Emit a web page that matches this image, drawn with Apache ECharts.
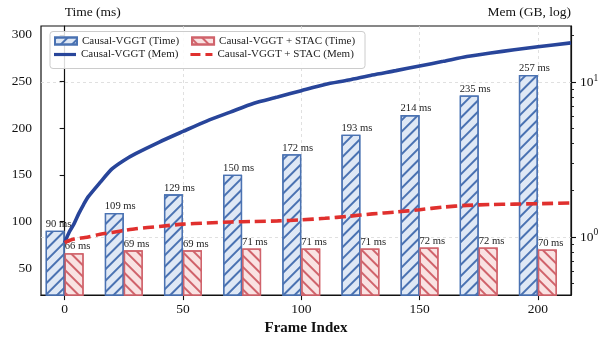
<!DOCTYPE html>
<html>
<head>
<meta charset="utf-8">
<script src="https://cdn.jsdelivr.net/npm/echarts@6/dist/echarts.min.js"></script>
<style>
  html, body { margin: 0; padding: 0; background: #fff; }
  #chart { width: 607px; height: 341px; }
</style>
</head>
<body>
<div id="chart"></div>
<script>
// Per-frame latency (ms) sampled every 25 frames
const frames = [0, 25, 50, 75, 100, 125, 150, 175, 200];
const timeBase = [90, 109, 129, 150, 172, 193, 214, 235, 257];
const timeStac = [66, 69, 69, 71, 71, 71, 72, 72, 70];

// Peak memory (GB) along the sequence
const memFrames = [0, 2, 4, 6, 8, 10, 15, 20, 25, 30, 40, 50, 60, 70, 80, 90, 100, 110, 120, 130, 140, 150, 160, 170, 180, 190, 200, 214];
const memBase = [0.92, 1.08, 1.22, 1.42, 1.62, 1.82, 2.25, 2.75, 3.12, 3.45, 4.1, 4.8, 5.6, 6.4, 7.3, 8.0, 8.8, 9.65, 10.3, 11.1, 11.85, 12.7, 13.6, 14.6, 15.4, 16.15, 16.9, 17.9];
const memStac = [0.92, 0.95, 0.97, 0.98, 0.99, 1.0, 1.04, 1.07, 1.10, 1.13, 1.17, 1.21, 1.23, 1.25, 1.26, 1.27, 1.29, 1.32, 1.36, 1.41, 1.45, 1.50, 1.56, 1.60, 1.62, 1.63, 1.64, 1.66];

// Tick positions
const xTicks = [0, 50, 100, 150, 200];
const timeTicks = [50, 100, 150, 200, 250, 300];
const memMajorTicks = [1, 10];
const memMinorTicks = [0.5, 0.6, 0.7, 0.8, 0.9, 2, 3, 4, 5, 6, 7, 8, 9, 20];

const names = {
  tb: 'Causal-VGGT (Time)',
  ts: 'Causal-VGGT + STAC (Time)',
  mb: 'Causal-VGGT (Mem)',
  ms: 'Causal-VGGT + STAC (Mem)'
};

const FONT = '"Liberation Serif", "Times New Roman", serif';
const BLUE_EDGE = '#4a72b2';
const BLUE_FILL = '#dfe8f5';
const RED_EDGE = '#d0636b';
const RED_FILL = '#f9e2e2';
const NAVY = '#28459a';
const RED_LINE = '#e0302e';

const pair = (xs, ys) => xs.map((x, i) => [x, ys[i]]);

// diagonal hatching drawn as a rotated stripe pattern
const hatch = (color, rot) => ({
  symbol: 'rect',
  symbolSize: 1,
  dashArrayX: [1, 0],
  dashArrayY: [1.2, 5.8],
  rotation: rot,
  color: color
});

const barLabel = {
  show: true,
  position: [0, -1],
  align: 'left',
  verticalAlign: 'bottom',
  fontFamily: FONT,
  fontSize: 10.6,
  color: '#222',
  formatter: p => p.value[1] + ' ms'
};

const legendText = { fontFamily: FONT, fontSize: 11, color: '#222' };

const chart = echarts.init(document.getElementById('chart'), null, { renderer: 'canvas' });

chart.setOption({
  animation: false,
  backgroundColor: '#fff',
  textStyle: { fontFamily: FONT },
  grid: {
    left: 41, right: 36, top: 26, bottom: 43,
    show: true, borderColor: '#111', borderWidth: 1.2, backgroundColor: 'transparent'
  },
  graphic: [{
    type: 'rect',
    z: 5,
    shape: { x: 50, y: 31.5, width: 315, height: 37, r: 3 },
    style: { fill: 'rgba(255,255,255,0.85)', stroke: '#cccccc', lineWidth: 1 }
  }],
  legend: [
    {
      z: 6,
      left: 54, top: 35.5, padding: 0,
      itemWidth: 22, itemHeight: 7, itemGap: 12,
      textStyle: legendText,
      data: [{ name: names.tb, icon: 'rect' }, { name: names.ts, icon: 'rect' }]
    },
    {
      z: 6,
      left: 54, top: 49, padding: 0,
      itemWidth: 22, itemHeight: 3.2, itemGap: 12,
      textStyle: legendText,
      data: [
        { name: names.mb, icon: 'rect' },
        { name: names.ms, icon: 'path://M0,0H10V3.2H0Z M15,0H22V3.2H15Z' }
      ]
    }
  ],
  xAxis: {
    type: 'value',
    min: -10, max: 214,
    name: 'Frame Index',
    nameLocation: 'middle',
    nameGap: 24,
    nameTextStyle: { fontFamily: FONT, fontSize: 15, fontWeight: 'bold', color: '#111' },
    axisLine: { show: true, lineStyle: { color: '#111', width: 1.2 } },
    axisTick: { show: true, length: 5, customValues: xTicks, lineStyle: { color: '#111', width: 1.1 } },
    axisLabel: { customValues: xTicks, margin: 7, fontFamily: FONT, fontSize: 13.5, color: '#111' },
    splitLine: { show: true, lineStyle: { color: '#d9d9d9', type: [3, 3], width: 0.8 } }
  },
  yAxis: [
    {
      type: 'value',
      min: 21, max: 309.5,
      position: 'left',
      name: 'Time (ms)',
      nameLocation: 'end',
      nameGap: 7,
      nameTextStyle: { fontFamily: FONT, fontSize: 13.5, color: '#111', align: 'left', verticalAlign: 'bottom' },
      axisLine: { show: true, lineStyle: { color: '#111', width: 1.2 } },
      axisTick: { show: true, length: 5, customValues: timeTicks, lineStyle: { color: '#111', width: 1.1 } },
      axisLabel: { customValues: timeTicks, margin: 9, fontFamily: FONT, fontSize: 13.5, color: '#111' },
      splitLine: { show: false }
    },
    {
      type: 'log',
      logBase: 10,
      min: 0.4217, max: 23.0,
      position: 'right',
      name: 'Mem (GB, log)',
      nameLocation: 'end',
      nameGap: 7,
      nameTextStyle: { fontFamily: FONT, fontSize: 13.5, color: '#111', align: 'right', verticalAlign: 'bottom' },
      axisLine: { show: true, lineStyle: { color: '#111', width: 1.2 } },
      axisTick: { show: true, length: 5, customValues: memMajorTicks, lineStyle: { color: '#111', width: 1.1 } },
      axisLabel: {
        customValues: memMajorTicks,
        margin: 9,
        formatter: v => '{b|10}{e|' + Math.round(Math.log10(v)) + '}',
        rich: {
          b: { fontFamily: FONT, fontSize: 13.5, color: '#111', lineHeight: 18 },
          e: { fontFamily: FONT, fontSize: 9.5, color: '#111', verticalAlign: 'top', lineHeight: 18 }
        }
      },
      splitLine: { show: true, lineStyle: { color: '#d9d9d9', type: [3, 3], width: 0.8 } }
    },
    {
      type: 'log',
      logBase: 10,
      min: 0.4217, max: 23.0,
      position: 'right',
      axisLine: { show: false },
      axisTick: { show: true, length: 3, customValues: memMinorTicks, lineStyle: { color: '#111', width: 0.9 } },
      axisLabel: { show: false },
      splitLine: { show: false }
    }
  ],
  series: [
    {
      name: names.tb,
      type: 'bar',
      xAxisIndex: 0, yAxisIndex: 0,
      barWidth: 19,
      barGap: '0%',
      z: 2,
      data: pair(frames, timeBase),
      itemStyle: { color: BLUE_FILL, borderColor: BLUE_EDGE, borderWidth: 1.3, decal: hatch(BLUE_EDGE, -Math.PI / 4) },
      label: barLabel
    },
    {
      name: names.ts,
      type: 'bar',
      xAxisIndex: 0, yAxisIndex: 0,
      barWidth: 19,
      barGap: '0%',
      z: 2,
      data: pair(frames, timeStac),
      itemStyle: { color: RED_FILL, borderColor: RED_EDGE, borderWidth: 1.3, decal: hatch(RED_EDGE, Math.PI / 4) },
      label: barLabel
    },
    {
      name: names.mb,
      type: 'line',
      yAxisIndex: 1,
      z: 3,
      symbol: 'none',
      smooth: 0.25,
      data: pair(memFrames, memBase),
      itemStyle: { color: NAVY },
      lineStyle: { color: NAVY, width: 3.6 }
    },
    {
      name: names.ms,
      type: 'line',
      yAxisIndex: 1,
      z: 3,
      symbol: 'none',
      smooth: 0.25,
      data: pair(memFrames, memStac),
      itemStyle: { color: RED_LINE },
      lineStyle: { color: RED_LINE, width: 3.6, type: [11, 5] }
    }
  ]
});
</script>
</body>
</html>
